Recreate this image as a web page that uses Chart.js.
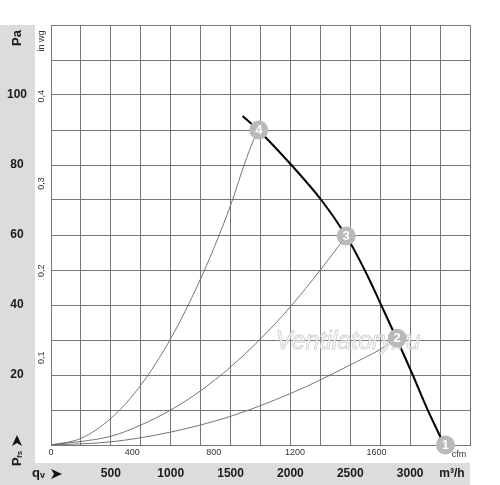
<!DOCTYPE html>
<html>
<head>
<meta charset="utf-8">
<script src="https://cdn.jsdelivr.net/npm/chart.js@4.4.1/dist/chart.umd.min.js"></script>
<style>
  html, body { margin: 0; padding: 0; background: #fff; }
  #wrap { width: 500px; height: 485px; position: relative; }
</style>
</head>
<body>
<div id="wrap"><canvas id="fanChart"></canvas></div>
<script>
// Fan curve (m³/h, Pa)
const fanQ = [1600, 1738, 2008, 2258, 2466, 2620, 2758, 2892, 3022, 3147, 3285];
const fanP = [94, 89.8, 80, 70, 59.7, 50, 40, 30, 20, 10, 0];

// System curves through operating points 4, 3, 2
const sys4Q = [0, 250, 500, 750, 1000, 1250, 1405, 1516, 1613, 1703, 1736];
const sys4P = [0, 1.9, 7.6, 17.1, 30.4, 47.5, 60, 70, 80, 88, 90];
const sys3Q = [0, 500, 750, 1000, 1250, 1500, 1750, 2000, 2250, 2466];
const sys3P = [0, 2.5, 5.7, 10, 15.5, 22.3, 30.3, 39.5, 50, 59.7];
const sys2Q = [0, 500, 1000, 1500, 2000, 2250, 2500, 2750, 2892];
const sys2P = [0, 0.9, 3.7, 8.2, 14.7, 18.6, 22.9, 27.3, 30.5];

// Operating points
const opQ = [3295, 2892, 2466, 1736];
const opP = [0, 30.5, 59.7, 90];
const opLabels = ['1', '2', '3', '4'];

// Tick labels
const paTicks = [20, 40, 60, 80, 100];
const inwgTicks = [0.1, 0.2, 0.3, 0.4];
const cfmTicks = [0, 400, 800, 1200, 1600];
const m3hTicks = [500, 1000, 1500, 2000, 2500, 3000];

const PA_PER_INWG = 249.089;
const M3H_PER_CFM = 1.699;

function pts(qs, ps) {
    return qs.map(function(q, i) { return { x: q, y: ps[i] }; });
}

const FONT = '"Liberation Sans", Arial, sans-serif';

function arrowHead(ctx, x, y, angle) {
    ctx.save();
    ctx.translate(x, y);
    ctx.rotate(angle);
    ctx.beginPath();
    ctx.moveTo(6, 0);
    ctx.lineTo(-5, -5);
    ctx.lineTo(-2, 0);
    ctx.lineTo(-5, 5);
    ctx.closePath();
    ctx.fillStyle = '#111';
    ctx.fill();
    ctx.restore();
}

const decorPlugin = {
    id: 'decor',
    beforeDraw: function(chart) {
        const ctx = chart.ctx;
        ctx.save();
        ctx.fillStyle = '#dcdcdc';
        ctx.fillRect(0, 25, 35, 460);
        ctx.fillRect(0, 463, 470, 22);
        ctx.restore();
    },
    afterDatasetsDraw: function(chart) {
        const ctx = chart.ctx;

        // watermark
        ctx.save();
        ctx.font = 'italic 25px ' + FONT;
        ctx.textAlign = 'center';
        ctx.textBaseline = 'middle';
        ctx.fillStyle = 'rgba(255,255,255,0.7)';
        ctx.strokeStyle = 'rgba(200,200,200,0.8)';
        ctx.lineWidth = 1;
        ctx.fillText('Ventilatory.ru', 348, 342);
        ctx.strokeText('Ventilatory.ru', 348, 342);
        ctx.restore();

        // operating point circles and numbers (on top of the watermark)
        const meta = chart.getDatasetMeta(4);
        ctx.save();
        meta.data.forEach(function(el, i) {
            ctx.beginPath();
            ctx.arc(el.x, el.y, 9.5, 0, Math.PI * 2);
            ctx.fillStyle = '#b9b9b9';
            ctx.fill();
            ctx.font = 'bold 13px ' + FONT;
            ctx.fillStyle = '#fff';
            ctx.textAlign = 'center';
            ctx.textBaseline = 'middle';
            ctx.fillText(opLabels[i], el.x, el.y + 0.5);
        });
        ctx.restore();
    },
    afterDraw: function(chart) {
        const ctx = chart.ctx;
        const xs = chart.scales.x;
        const ys = chart.scales.y;
        ctx.save();
        ctx.fillStyle = '#1a1a1a';
        ctx.textAlign = 'center';
        ctx.textBaseline = 'middle';

        // Pa ticks
        ctx.font = 'bold 12px ' + FONT;
        paTicks.forEach(function(v) {
            ctx.fillText(String(v), 17, ys.getPixelForValue(v));
        });

        // m³/h ticks
        m3hTicks.forEach(function(v) {
            ctx.fillText(String(v), xs.getPixelForValue(v), 474);
        });
        ctx.fillText('m³/h', 452, 474);

        // cfm ticks
        ctx.font = '9px ' + FONT;
        ctx.fillStyle = '#333';
        cfmTicks.forEach(function(v) {
            ctx.fillText(String(v), xs.getPixelForValue(v * M3H_PER_CFM), 453);
        });
        ctx.fillText('cfm', 459, 455);

        // in wg ticks, rotated
        inwgTicks.forEach(function(v) {
            ctx.save();
            ctx.translate(42, ys.getPixelForValue(v * PA_PER_INWG));
            ctx.rotate(-Math.PI / 2);
            ctx.fillText(String(v).replace('.', ','), 0, 0);
            ctx.restore();
        });
        ctx.save();
        ctx.translate(42, 41);
        ctx.rotate(-Math.PI / 2);
        ctx.fillText('in wg', 0, 0);
        ctx.restore();

        // axis titles
        ctx.fillStyle = '#1a1a1a';
        ctx.save();
        ctx.translate(17, 38);
        ctx.rotate(-Math.PI / 2);
        ctx.font = 'bold 13px ' + FONT;
        ctx.fillText('Pa', 0, 0);
        ctx.restore();

        ctx.save();
        ctx.translate(17, 458);
        ctx.rotate(-Math.PI / 2);
        ctx.textAlign = 'left';
        ctx.font = 'bold 13px ' + FONT;
        ctx.fillText('P', -8, 0);
        ctx.font = 'bold 8px ' + FONT;
        ctx.fillText('fs', 0, 3);
        ctx.restore();
        arrowHead(ctx, 17, 441, -Math.PI / 2);

        ctx.font = 'bold 13px ' + FONT;
        ctx.textAlign = 'left';
        ctx.fillText('q', 32, 473);
        ctx.font = 'bold 9px ' + FONT;
        ctx.fillText('v', 40, 476);
        arrowHead(ctx, 56, 474, 0);

        ctx.restore();
    }
};

document.addEventListener('DOMContentLoaded', function() {
    const ctx = document.getElementById('fanChart').getContext('2d');
    const gridColor = '#777';
    new Chart(ctx, {
        type: 'scatter',
        data: {
            datasets: [
                { data: pts(sys4Q, sys4P), showLine: true, borderColor: '#666', borderWidth: 0.9, pointRadius: 0, cubicInterpolationMode: 'monotone' },
                { data: pts(sys3Q, sys3P), showLine: true, borderColor: '#666', borderWidth: 0.9, pointRadius: 0, cubicInterpolationMode: 'monotone' },
                { data: pts(sys2Q, sys2P), showLine: true, borderColor: '#666', borderWidth: 0.9, pointRadius: 0, cubicInterpolationMode: 'monotone' },
                { data: pts(fanQ, fanP), showLine: true, borderColor: '#000', borderWidth: 2, pointRadius: 0, tension: 0.35 },
                { data: pts(opQ, opP), showLine: false, pointRadius: 0 }
            ]
        },
        options: {
            responsive: true,
            maintainAspectRatio: false,
            animation: false,
            layout: {
                padding: { left: 51, top: 25, right: 30, bottom: 40 }
            },
            plugins: {
                legend: { display: false },
                tooltip: { enabled: false }
            },
            scales: {
                x: {
                    type: 'linear',
                    min: 0,
                    max: 3500,
                    ticks: { stepSize: 250, display: false },
                    grid: { color: gridColor, lineWidth: 1, drawTicks: false },
                    border: { color: gridColor }
                },
                y: {
                    type: 'linear',
                    min: 0,
                    max: 120,
                    ticks: { stepSize: 10, display: false },
                    grid: { color: gridColor, lineWidth: 1, drawTicks: false },
                    border: { color: gridColor }
                }
            }
        },
        plugins: [decorPlugin]
    });
});
</script>
</body>
</html>
